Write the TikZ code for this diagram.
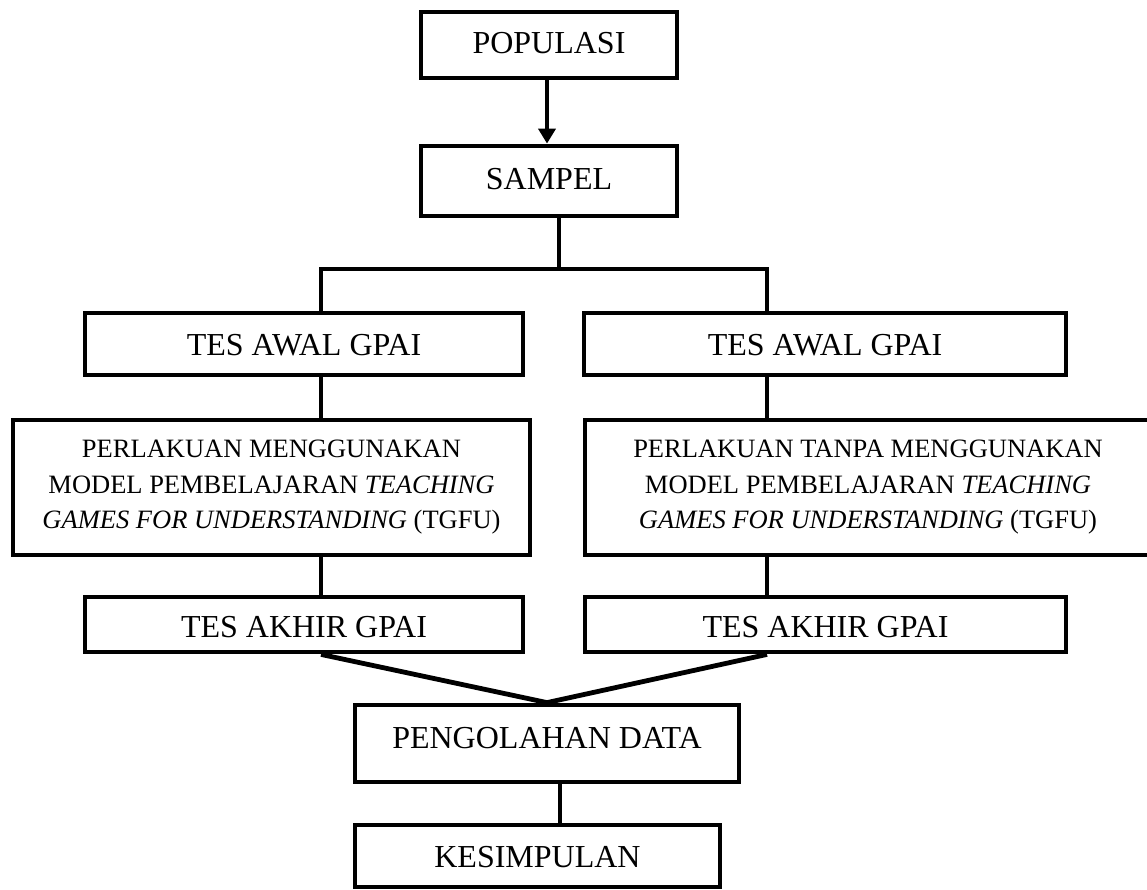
\documentclass[tikz,border=0pt]{standalone}
\usepackage{fontspec}
\setmainfont{Liberation Serif}
\usetikzlibrary{arrows.meta,calc}
\begin{document}
\begin{tikzpicture}[x=1pt,y=-1pt,
  box/.style={draw, line width=4.8pt, inner sep=0pt, font=\fontsize{32}{38}\selectfont},
  bl/.style n args={2}{text height=#1pt, text depth=#2pt},
  longbox/.style={draw, line width=4.8pt, inner sep=0pt, align=center, font=\fontsize{26.5}{35.5}\selectfont},
  conn/.style={line width=4.8pt}]
\useasboundingbox (0,0) rectangle (1147,889);
% boxes
\node[box, minimum width=256pt, minimum height=66pt, bl={22}{6}] (pop) at (549,45) {POPULASI};
\node[box, minimum width=256pt, minimum height=70pt, bl={22}{6}] (sam) at (549,181) {SAMPEL};
\node[box, minimum width=438pt, minimum height=62pt, bl={25}{3}] (tawl) at (304,344) {TES AWAL GPAI};
\node[box, minimum width=482pt, minimum height=62pt, bl={25}{3}] (tawr) at (825,344) {TES AWAL GPAI};
\node[longbox, minimum width=517pt, minimum height=135pt] (perl) at (271.5,487.5)
  {PERLAKUAN MENGGUNAKAN\\MODEL PEMBELAJARAN \textit{TEACHING}\\\textit{GAMES FOR UNDERSTANDING} (TGFU)};
\node[longbox, minimum width=566pt, minimum height=135pt] (perr) at (868,487.5)
  {PERLAKUAN TANPA MENGGUNAKAN\\MODEL PEMBELAJARAN \textit{TEACHING}\\\textit{GAMES FOR UNDERSTANDING} (TGFU)};
\node[box, minimum width=438pt, minimum height=55pt, bl={27}{1}] (takl) at (304,624.5) {TES AKHIR GPAI};
\node[box, minimum width=481pt, minimum height=55pt, bl={27}{1}] (takr) at (825.5,624.5) {TES AKHIR GPAI};
\node[box, minimum width=384pt, minimum height=77pt, bl={18.5}{9.5}] (peng) at (547,743.5) {PENGOLAHAN DATA};
\node[box, minimum width=365pt, minimum height=62pt, bl={25.5}{2.5}] (kes) at (537.5,856) {KESIMPULAN};
% helper coordinates
\coordinate (a) at (547,0);
\coordinate (j) at (559,269);
\coordinate (jl) at (321,269);
\coordinate (jr) at (767,269);
\coordinate (k) at (560,0);
% connectors
\draw[conn,-{Triangle[width=17pt,length=15pt]}] (pop.south -| a) -- (sam.north -| a);
\draw[conn] (sam.south -| j) -- (j);
\draw[conn] (tawl.north -| jl) -- (jl) -- (jr) -- (tawr.north -| jr);
\draw[conn] (tawl.south -| jl) -- (perl.north -| jl);
\draw[conn] (tawr.south -| jr) -- (perr.north -| jr);
\draw[conn] (perl.south -| jl) -- (takl.north -| jl);
\draw[conn] (perr.south -| jr) -- (takr.north -| jr);
\draw[conn] (takl.south -| jl) -- (peng.north) -- (takr.south -| jr);
\draw[conn] (peng.south -| k) -- (kes.north -| k);
\end{tikzpicture}
\end{document}
